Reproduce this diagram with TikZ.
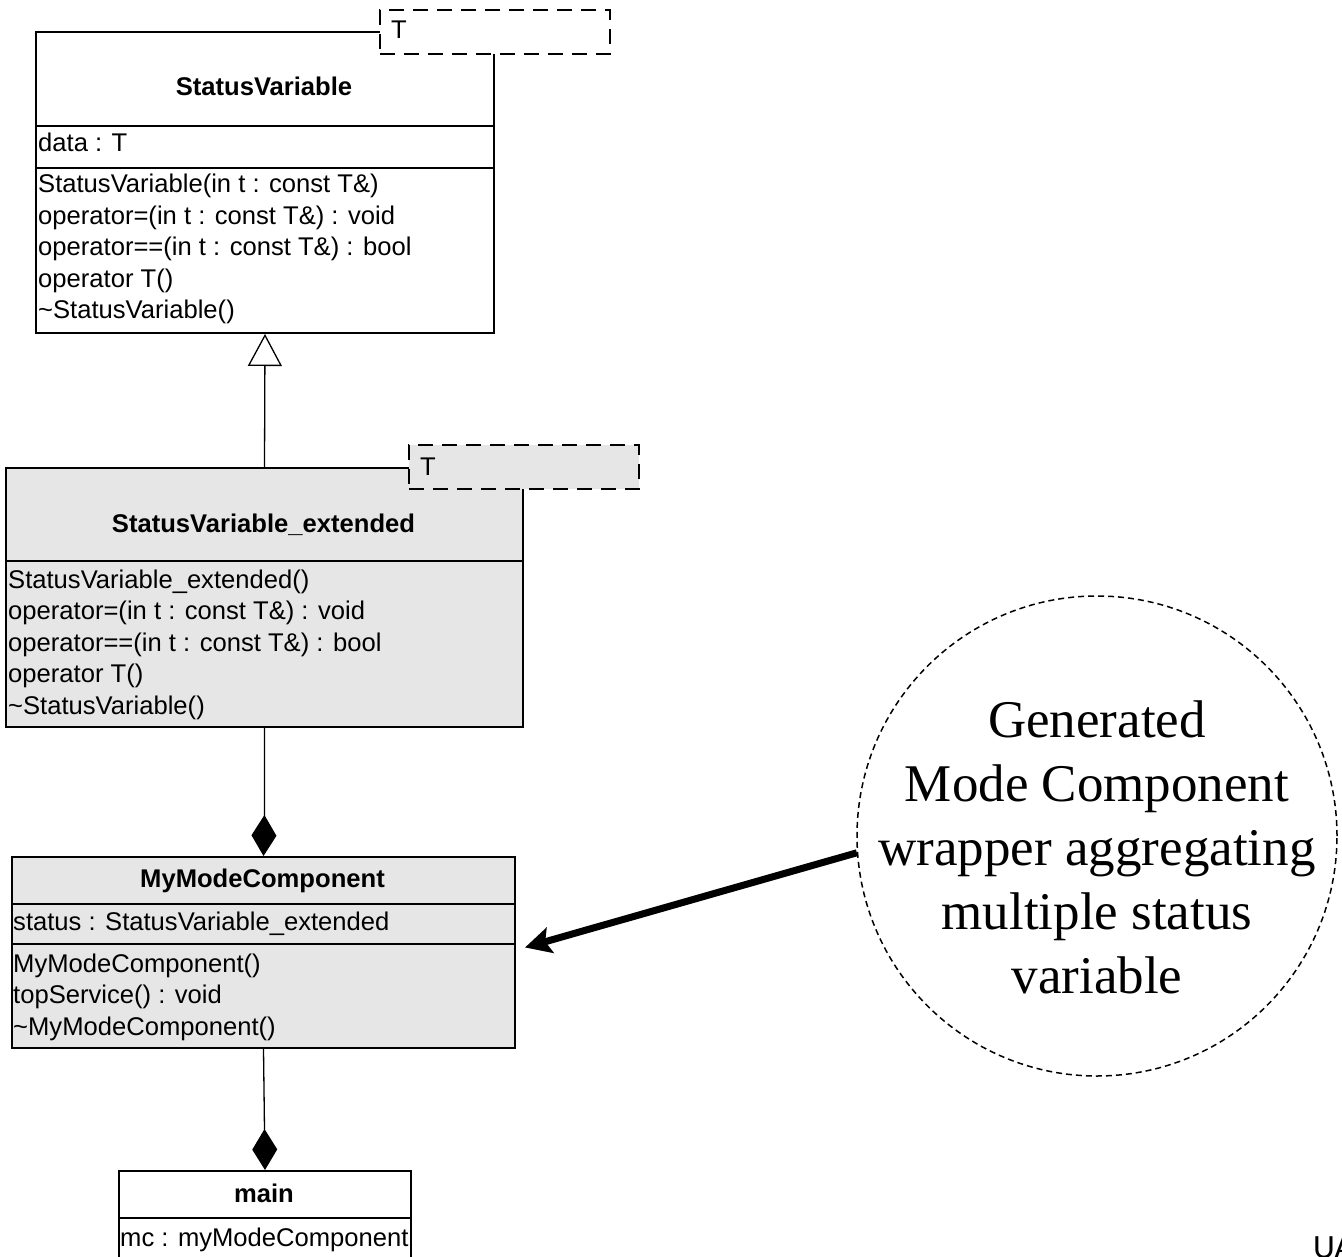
\documentclass[tikz,border=0pt]{standalone}
\usepackage{fontspec}
\setmainfont{Liberation Sans}
\newfontfamily\notefont{Liberation Serif}
\newfontfamily\tagfont{Carlito}
\usetikzlibrary{arrows.meta,calc}

\definecolor{classgray}{HTML}{E6E6E6}

% member lists: first baseline sits on the node's base anchor
\newcommand{\memberlist}[1]{\vtop{\baselineskip=31.5pt\relax #1}}
\newcommand{\notelines}[1]{\vtop{\baselineskip=64pt\relax\halign{\hfil##\hfil\cr #1}}}

\begin{document}
\begin{tikzpicture}[x=1pt,y=-1pt,
  classbox/.style={draw,line width=2pt,minimum width=#1,anchor=north west,inner sep=0pt},
  tparam/.style={draw,line width=2pt,dash pattern=on 15pt off 9pt,
    minimum width=230pt,minimum height=44pt,anchor=north west,inner sep=0pt},
  membertext/.style={anchor=base west,inner sep=0pt,
    font=\fontsize{25.6}{31.5}\selectfont},
  titletext/.style={anchor=base,inner sep=0pt,
    font=\fontsize{25.6}{31.5}\selectfont\bfseries},
  sep/.style={line width=2pt},
  gen/.style={line width=1.3pt,-{Triangle[open,length=32pt,width=34pt,fill=white,line width=1.3pt]}},
  comp/.style={line width=1.3pt,-{Diamond[length=41pt,width=25pt]}},
  notearrow/.style={line width=7pt,-{Stealth[length=26pt,width=26pt,inset=5pt]}},
]
\useasboundingbox (0,0) rectangle (1342,1257);
\clip (0,0) rectangle (1342,1257);

% ---------- StatusVariable ----------
\node[classbox=458pt,minimum height=301pt,fill=white] (sv) at (35,31) {};
\draw[sep] (35,126) -- (493,126);
\draw[sep] (35,168) -- (493,168);
\node[tparam,fill=white] (svt) at (379,9) {};
\node[membertext] (svtt) at (391,39) {T};
\node[titletext] (svn) at (264,96) {StatusVariable};
\node[membertext] (sva) at (38,152) {data : T};
\node[membertext] (svm) at (38,193) {\memberlist{%
  \hbox{StatusVariable(in t : const T\&)}
  \hbox{operator=(in t : const T\&) : void}
  \hbox{operator==(in t : const T\&) : bool}
  \hbox{operator T()}
  \hbox{\textasciitilde StatusVariable()}}};

% ---------- StatusVariable_extended ----------
\node[classbox=517pt,minimum height=259pt,fill=classgray] (svx) at (5,467) {};
\draw[sep] (5,561) -- (522,561);
\node[tparam,fill=classgray] (svxt) at (408,444) {};
\node[membertext] (svxtt) at (420,475) {T};
\node[titletext] (svxn) at (263.5,532) {StatusVariable\_extended};
\node[membertext] (svxm) at (8,588) {\memberlist{%
  \hbox{StatusVariable\_extended()}
  \hbox{operator=(in t : const T\&) : void}
  \hbox{operator==(in t : const T\&) : bool}
  \hbox{operator T()}
  \hbox{\textasciitilde StatusVariable()}}};

% ---------- MyModeComponent ----------
\node[classbox=503pt,minimum height=191pt,fill=classgray] (mmc) at (11,856) {};
\draw[sep] (11,904) -- (514,904);
\draw[sep] (11,944) -- (514,944);
\node[titletext] (mmcn) at (262.5,887) {MyModeComponent};
\node[membertext] (mmca) at (13,930) {status : StatusVariable\_extended};
\node[membertext] (mmcm) at (13,972) {\memberlist{%
  \hbox{MyModeComponent()}
  \hbox{topService() : void}
  \hbox{\textasciitilde MyModeComponent()}}};

% ---------- main ----------
\node[classbox=292pt,minimum height=110pt,fill=white] (main) at (118,1170) {};
\draw[sep] (118,1218) -- (410,1218);
\node[titletext] (mainn) at (264,1202) {main};
\node[membertext] (maina) at (120,1246) {mc : myModeComponent};

% ---------- relations ----------
\draw[gen] (svx.north) -- (sv.south);
\draw[comp] (svx.south) -- ++(0,84) -- (mmc.north);
\draw[comp] (mmc.south) -- (main.north);

% ---------- note ----------
\node[circle,draw,line width=1.5pt,dash pattern=on 6pt off 4pt,
  minimum size=480pt,inner sep=0pt] (note) at (1097,836) {};
\node[anchor=base,inner sep=0pt,font=\notefont\fontsize{53}{64}\selectfont]
  (notetext) at (1097,737) {\notelines{%
  Generated\cr Mode Component\cr wrapper aggregating\cr multiple status\cr variable\cr}};
\coordinate (tip) at ($(mmc.east)+(9,-5)$);
\draw[notearrow] (note.184) -- (tip);

% ---------- corner tag ----------
\node[anchor=base west,inner sep=0pt,font=\tagfont\fontsize{34}{40}\selectfont]
  (tag) at (1313,1258) {UA};
\end{tikzpicture}
\end{document}
